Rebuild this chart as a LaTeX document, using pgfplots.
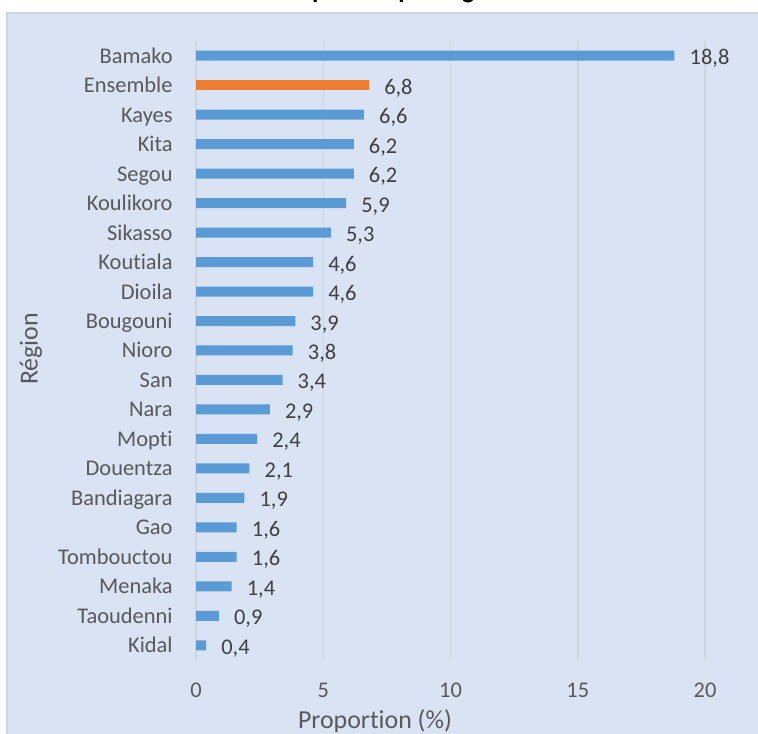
\documentclass[border=0pt]{standalone}
\usepackage{pgfplots}
\pgfplotsset{compat=1.18}
\usepackage{fontspec}
\setmainfont[Ligatures=NoCommon]{Carlito}

\definecolor{bgblue}{RGB}{218,227,243}
\definecolor{barblue}{RGB}{91,155,213}
\definecolor{barorange}{RGB}{237,125,49}
\definecolor{gridgray}{RGB}{208,212,220}
\definecolor{txtgray}{RGB}{89,89,89}
\definecolor{lblgray}{RGB}{64,64,64}

\begin{document}
\begin{tikzpicture}[x=1bp,y=1bp]
\useasboundingbox (0,0) rectangle (758,734);
% chart area
\fill[bgblue] (7,-5) rectangle (765,721);
\draw[gridgray, line width=2bp] (7,-5) -- (7,721) -- (765,721);
% title, cut off at the top edge as in the source
\begin{scope}
\clip (0,0) rectangle (758,734);
\node[anchor=base east, font=\bfseries\fontsize{26}{30}\selectfont, text=black] at (512,735) {Proportion par région};
\end{scope}

\begin{axis}[
    at={(196bp,74bp)}, anchor=south west,
    scale only axis, width=509bp, height=619bp,
    xmin=0, xmax=20, ymin=-0.5, ymax=20.5,
    y dir=reverse,
    xbar, bar width=10bp, bar shift=0pt,
    axis line style={draw=none},
    tick style={draw=none},
    xmajorgrids,
    grid style={gridgray, line width=1.5bp},
    xtick={0,5,10,15,20},
    ytick={0,...,20},
    yticklabels={Bamako,Ensemble,Kayes,Kita,Segou,Koulikoro,Sikasso,Koutiala,Dioila,Bougouni,Nioro,San,Nara,Mopti,Douentza,Bandiagara,Gao,Tombouctou,Menaka,Taoudenni,Kidal},
    /pgf/number format/assume math mode=true,
    tick label style={font=\fontsize{22.5}{26}\selectfont, text=txtgray, inner sep=0pt},
    xticklabel style={anchor=center, yshift=-30bp},
    yticklabel style={anchor=base east, xshift=-19bp, yshift=-7.5bp},
    nodes near coords={\pgfmathprintnumber[fixed, fixed zerofill, precision=1, use comma, assume math mode=true]{\pgfplotspointmeta}},
    every node near coord/.append style={font=\fontsize{22.5}{26}\selectfont, text=lblgray, anchor=base west, inner sep=0pt, xshift=15bp, yshift=-9bp},
]
\addplot[fill=barblue, draw=none] coordinates {
    (18.8,0) (6.6,2) (6.2,3) (6.2,4) (5.9,5) (5.3,6) (4.6,7) (4.6,8)
    (3.9,9) (3.8,10) (3.4,11) (2.9,12) (2.4,13) (2.1,14) (1.9,15)
    (1.6,16) (1.6,17) (1.4,18) (0.9,19) (0.4,20)
};
\addplot[fill=barorange, draw=none] coordinates {(6.8,1)};
\end{axis}

\node[rotate=90, font=\fontsize{26}{30}\selectfont, text=txtgray] at (31,385) {Région};
\node[font=\fontsize{26}{30}\selectfont, text=txtgray] at (375,13) {Proportion (\%)};
\end{tikzpicture}
\end{document}
